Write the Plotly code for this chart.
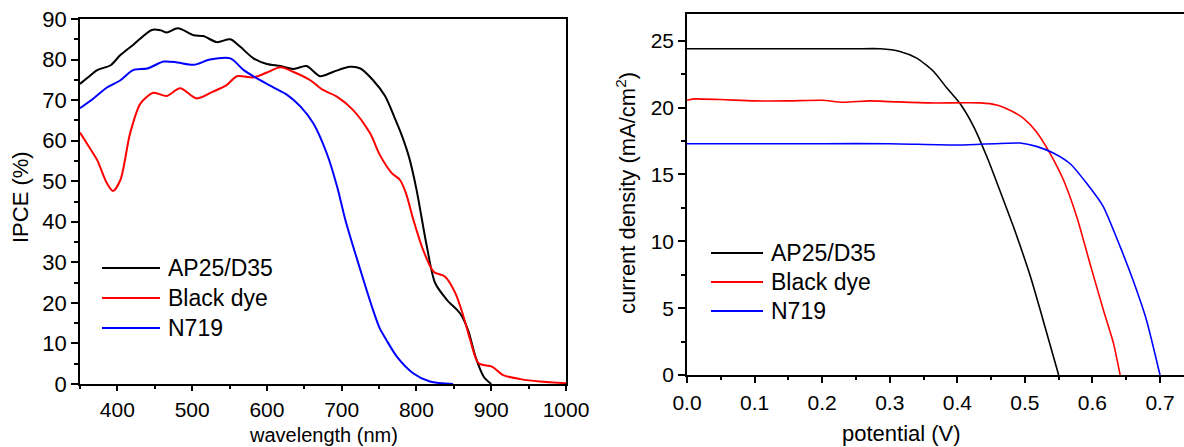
import plotly.graph_objects as go

# ---------------- data: IPCE ----------------
wl_ap25 = [350, 360, 373, 391, 404, 421, 446, 458, 466, 481, 502, 515, 533, 551, 564, 582, 600, 618,
           636, 653, 671, 689, 711, 725, 742, 758, 770, 780, 790, 800, 814, 825, 841, 858, 869, 879, 890, 900]
ipce_ap25 = [74, 75.5, 77.4, 78.6, 81.1, 83.6, 87.3, 87.2, 86.7, 87.7, 86.0, 85.8, 84.3, 85.0, 83.2, 80.3,
             78.9, 78.4, 77.7, 78.4, 75.9, 77.0, 78.2, 77.8, 74.9, 71.0, 66.0, 61.5, 56.0, 48.0, 33.8, 24.9,
             20.7, 17.5, 13.3, 6.7, 1.8, 0]

wl_black = [350, 362, 373, 386, 394, 404, 417, 431, 448, 466, 484, 506, 528, 546, 560, 582, 600, 618, 635,
            658, 675, 694, 715, 738, 751, 767, 778, 786, 796, 809, 823, 838, 852, 863, 872, 883, 901, 916,
            939, 965, 1000]
ipce_black = [62, 58.5, 55.2, 49.5, 47.6, 50.3, 61.8, 69.2, 71.8, 71.0, 72.9, 70.4, 72.1, 73.7, 75.9, 75.6,
              76.8, 78.1, 77.0, 74.9, 72.5, 70.8, 67.6, 61.8, 56.5, 52.0, 50.3, 47.0, 40.4, 33.0, 27.7, 26.5,
              22.4, 16.6, 10.8, 5.1, 4.3, 2.2, 1.2, 0.6, 0.2]

wl_n719 = [350, 368, 386, 404, 421, 440, 462, 480, 502, 524, 551, 569, 591, 609, 627, 645, 662, 680, 694,
           705, 725, 742, 751, 760, 774, 796, 818, 849]
ipce_n719 = [68, 70.4, 73.1, 74.9, 77.4, 77.8, 79.5, 79.3, 78.7, 80.0, 80.3, 77.4, 74.9, 73.1, 71.3, 68.4,
             64.3, 56.9, 48.6, 40.4, 28.1, 18.2, 13.7, 10.8, 6.7, 2.6, 0.6, 0]

# ---------------- data: J-V ----------------
v_ap25 = [0, 0.05, 0.1, 0.15, 0.2, 0.25, 0.286, 0.315, 0.340, 0.365, 0.384, 0.404, 0.424, 0.444, 0.463,
          0.483, 0.508, 0.527, 0.550]
j_ap25 = [24.4, 24.4, 24.4, 24.4, 24.4, 24.4, 24.4, 24.2, 23.7, 22.7, 21.5, 20.3, 18.6, 16.3, 13.8, 11.1,
          7.4, 4.1, 0]

v_black = [0, 0.01, 0.05, 0.1, 0.15, 0.2, 0.23, 0.27, 0.3, 0.36, 0.434, 0.458, 0.478, 0.498, 0.517, 0.537,
           0.557, 0.577, 0.596, 0.616, 0.631, 0.641]
j_black = [20.55, 20.65, 20.6, 20.5, 20.5, 20.55, 20.4, 20.5, 20.45, 20.35, 20.35, 20.2, 19.8, 19.2, 18.2,
           16.6, 14.6, 11.8, 8.4, 4.9, 2.4, 0]

v_n719 = [0, 0.1, 0.2, 0.3, 0.404, 0.493, 0.517, 0.542, 0.567, 0.592, 0.616, 0.641, 0.660, 0.680, 0.700]
j_n719 = [17.3, 17.3, 17.3, 17.3, 17.2, 17.35, 17.1, 16.6, 15.8, 14.3, 12.6, 9.6, 7.1, 4.1, 0]

names = ["AP25/D35", "Black dye", "N719"]
colors = ["#000000", "#ff0000", "#0000ff"]

W, H = 1184, 447
FONT = "Liberation Sans, Arial, sans-serif"


def px(x):
    return x / W


def py(y):
    return 1 - y / H


fig = go.Figure()

ipce_sets = [(wl_ap25, ipce_ap25), (wl_black, ipce_black), (wl_n719, ipce_n719)]
for (x, y), n, c in zip(ipce_sets, names, colors):
    fig.add_trace(go.Scatter(x=x, y=y, name=n, mode="lines", xaxis="x", yaxis="y",
                             line=dict(color=c, width=2, shape="spline", smoothing=0.8),
                             showlegend=False))

jv_sets = [(v_ap25, j_ap25), (v_black, j_black), (v_n719, j_n719)]
for (x, y), n, c in zip(jv_sets, names, colors):
    fig.add_trace(go.Scatter(x=x, y=y, name=n, mode="lines", xaxis="x2", yaxis="y2",
                             line=dict(color=c, width=1.6, shape="spline", smoothing=0.6),
                             showlegend=False))

axis_common = dict(showline=True, linecolor="black", linewidth=1.5, ticks="outside",
                   tickcolor="black", tickwidth=1.5, showgrid=False, zeroline=False,
                   color="black", automargin=False)

fig.update_layout(
    width=W, height=H,
    margin=dict(l=0, r=0, t=0, b=0, pad=0, autoexpand=False),
    paper_bgcolor="white", plot_bgcolor="white",
    font=dict(family=FONT, color="black"),
    showlegend=False,
    xaxis=dict(**axis_common, domain=[px(80), px(566)], range=[350, 1000], anchor="y",
               tickvals=[400, 500, 600, 700, 800, 900, 1000], ticklen=5, mirror=True,
               tickfont=dict(size=21, family=FONT), ticklabelstandoff=1,
               minor=dict(ticks="outside", ticklen=3, dtick=50, tick0=350, tickcolor="black", tickwidth=1.5)),
    yaxis=dict(**axis_common, domain=[py(384), py(19)], range=[0, 90], anchor="x",
               dtick=10, ticklen=7, mirror=True, tickfont=dict(size=22, family=FONT),
               minor=dict(ticks="outside", ticklen=4, dtick=5, tickcolor="black", tickwidth=1.5)),
    xaxis2=dict(**axis_common, domain=[px(687), 1.0], range=[0, 0.7355], anchor="y2",
                tickvals=[0, 0.1, 0.2, 0.3, 0.4, 0.5, 0.6, 0.7], tickformat=".1f", ticklen=6,
                mirror=True, tickfont=dict(size=21, family=FONT), ticklabelstandoff=2,
                minor=dict(ticks="outside", ticklen=3, dtick=0.05, tickcolor="black", tickwidth=1.5)),
    yaxis2=dict(**axis_common, domain=[py(375), py(14)], range=[0, 27], anchor="x2",
                dtick=5, ticklen=7, mirror=False, tickfont=dict(size=21, family=FONT),
                minor=dict(ticks="outside", ticklen=4, dtick=2.5, tickcolor="black", tickwidth=1.5)),
)

annotations = [
    dict(text="wavelength (nm)", x=px(323), y=0, xref="paper", yref="paper",
         xanchor="center", yanchor="bottom", showarrow=False, borderpad=0,
         font=dict(size=20, family=FONT)),
    dict(text="IPCE (%)", x=px(20), y=py(197), xref="paper", yref="paper", textangle=-90,
         xanchor="center", yanchor="middle", showarrow=False, font=dict(size=22, family=FONT)),
    dict(text="potential (V)", x=px(901), y=0, xref="paper", yref="paper",
         xanchor="center", yanchor="bottom", showarrow=False, borderpad=0,
         font=dict(size=22, family=FONT)),
    dict(text="current density (mA/cm<sup>2</sup>)", x=px(626), y=py(193), xref="paper", yref="paper",
         textangle=-90, xanchor="center", yanchor="middle", showarrow=False,
         font=dict(size=22, family=FONT)),
]

shapes = []
# legends (left plot and right plot)
leg_left_rows = [268, 298, 328]
leg_right_rows = [253, 282, 311]
for i, (n, c) in enumerate(zip(names, colors)):
    yl = leg_left_rows[i]
    shapes.append(dict(type="line", xref="paper", yref="paper", x0=px(102), x1=px(160),
                       y0=py(yl), y1=py(yl), line=dict(color=c, width=2)))
    annotations.append(dict(text=n, x=px(166), y=py(yl), xref="paper", yref="paper",
                            xanchor="left", yanchor="middle", showarrow=False,
                            font=dict(size=23, family=FONT)))
    yr = leg_right_rows[i]
    shapes.append(dict(type="line", xref="paper", yref="paper", x0=px(711), x1=px(763),
                       y0=py(yr), y1=py(yr), line=dict(color=c, width=2)))
    annotations.append(dict(text=n, x=px(769), y=py(yr), xref="paper", yref="paper",
                            xanchor="left", yanchor="middle", showarrow=False,
                            font=dict(size=23, family=FONT)))

fig.update_layout(annotations=annotations, shapes=shapes)

fig.write_html("out.html")
